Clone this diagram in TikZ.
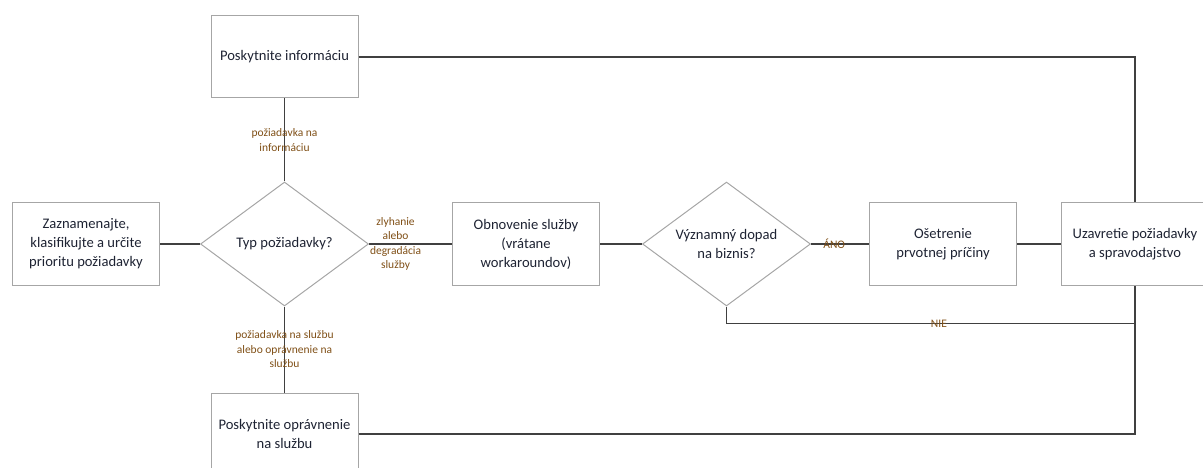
\documentclass[tikz,border=0pt]{standalone}
\usepackage{fontspec}
\setmainfont{Carlito}
\usetikzlibrary{positioning,shapes.geometric}
\definecolor{boxline}{HTML}{A6A6A6}
\definecolor{connline}{HTML}{404040}
\definecolor{boxtext}{HTML}{1E2333}
\definecolor{labtext}{HTML}{7F4F16}

\begin{document}
\begin{tikzpicture}[
  font=\fontsize{14.6}{19}\selectfont,
  box/.style={draw=boxline, line width=1pt, align=center, text=boxtext, minimum width=147pt, minimum height=82pt, inner sep=3pt},
  decision/.style={diamond, aspect=1.37, draw=boxline, line width=1pt, align=center, text=boxtext, minimum width=168pt, minimum height=124pt, inner sep=0pt},
  lab/.style={font=\fontsize{11.5}{14.5}\selectfont, text=labtext, align=center, inner sep=1pt},
  conn/.style={draw=connline, line width=1.3pt}
]
\useasboundingbox (0pt,0pt) rectangle (1203pt,-468pt);
\clip (0pt,0pt) rectangle (1203pt,-468pt);
\node[box] (rec) at (86pt,-244pt) {Zaznamenajte,\\klasifikujte a určite\\prioritu požiadavky};
\node[decision, right=40pt of rec] (typ) {Typ požiadavky?};
\node[box, above=83pt of typ] (info) {Poskytnite informáciu};
\node[box, below=86pt of typ] (opr) {Poskytnite oprávnenie\\na službu};
\node[box, right=83pt of typ] (obn) {Obnovenie služby\\(vrátane\\workaroundov)};
\node[decision, right=42pt of obn] (dopad) {Významný dopad\\na biznis?};
\node[box, right=58pt of dopad] (oset) {Ošetrenie\\prvotnej príčiny};
\node[box, right=44pt of oset] (uzav) {Uzavretie požiadavky\\a spravodajstvo};
\draw[conn] (rec) -- (typ);
\draw[conn] (typ) -- node[lab] {požiadavka na\\informáciu} (info);
\draw[conn] (typ) -- node[lab] {požiadavka na službu\\alebo oprávnenie na\\službu} (opr);
\draw[conn] (typ) -- node[lab, pos=0.32] {zlyhanie\\alebo\\degradácia\\služby} (obn);
\draw[conn] (obn) -- (dopad);
\draw[conn] (dopad) -- node[lab, pos=0.4] {ÁNO} (oset);
\draw[conn] (oset) -- (uzav);
\draw[conn] (dopad.south) -- ++(0,-17pt) -| node[lab, pos=0.26] {NIE} (uzav.south);
\draw[conn] (info) -| (uzav);
\draw[conn] (opr) -| (uzav);
\end{tikzpicture}
\end{document}
